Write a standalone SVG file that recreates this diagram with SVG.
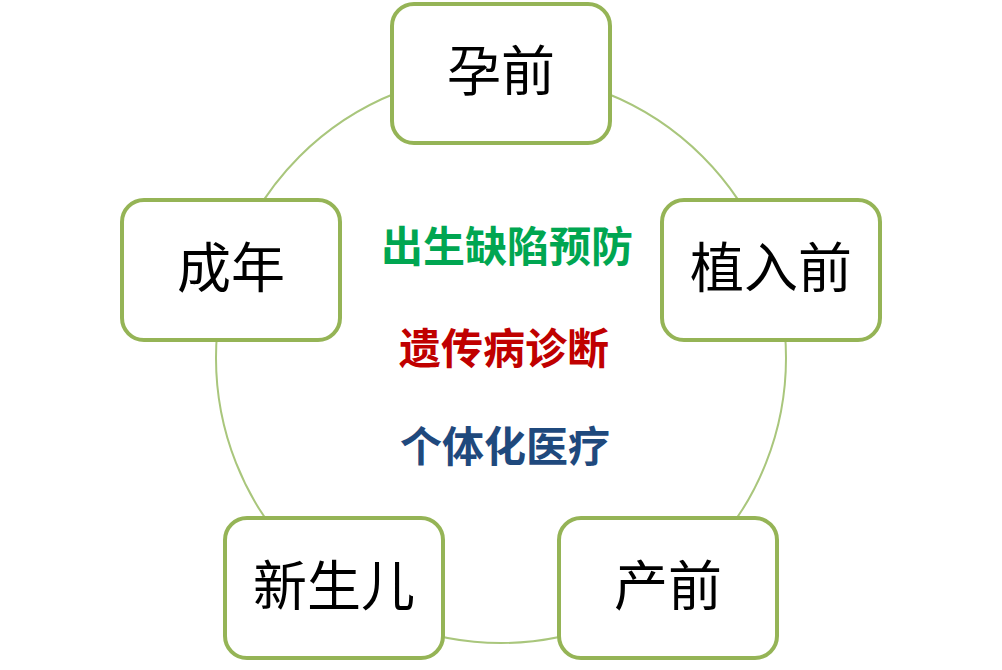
<svg xmlns="http://www.w3.org/2000/svg" width="1002" height="670" viewBox="0 0 1002 670">
<style>
.node rect{fill:#FFFFFF;stroke:#95B456;stroke-width:4}
.node text{font-family:"Liberation Serif","Noto Sans CJK SC",serif;font-size:54px;fill:#000000;text-anchor:middle;dominant-baseline:central}
.center text{font-family:"Liberation Sans","Noto Sans CJK SC",sans-serif;font-size:42px;font-weight:bold;text-anchor:middle;dominant-baseline:central}
</style>
<rect width="1002" height="670" fill="#FFFFFF"/>
<g id="connectors">
<circle cx="501" cy="358" r="285" fill="none" stroke="#A9C67C" stroke-width="2"/>
</g>
<g id="node-yunqian" class="node">
<rect x="392" y="4" width="218" height="139" rx="22"/>
<text x="501" y="73">孕前</text>
</g>
<g id="node-zhiruqian" class="node">
<rect x="662" y="200" width="218" height="140" rx="22"/>
<text x="771" y="270">植入前</text>
</g>
<g id="node-chanqian" class="node">
<rect x="559" y="518" width="218" height="140" rx="22"/>
<text x="668" y="588">产前</text>
</g>
<g id="node-xinshenger" class="node">
<rect x="225" y="518" width="218" height="140" rx="22"/>
<text x="334" y="588">新生儿</text>
</g>
<g id="node-chengnian" class="node">
<rect x="122" y="200" width="218" height="140" rx="22"/>
<text x="231" y="270">成年</text>
</g>
<g id="center" class="center">
<text x="507" y="247" fill="#00A651">出生缺陷预防</text>
<text x="504" y="349" fill="#C00000">遗传病诊断</text>
<text x="505" y="447" fill="#1F497D">个体化医疗</text>
</g>
</svg>
